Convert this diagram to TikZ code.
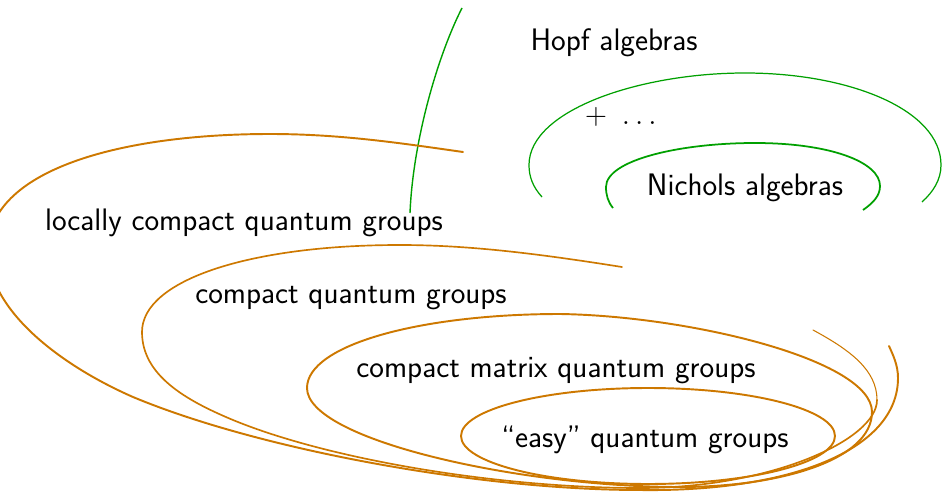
\documentclass[tikz,border=0pt]{standalone}
\usepackage{tikz}
\definecolor{qorange}{RGB}{205,120,0}
\definecolor{qgreen}{RGB}{0,160,0}
\tikzset{
  x=0.02cm, y=-0.02cm,
  ocurve/.style={draw=qorange, line width=1.1pt, line join=round, line cap=round},
  gcurve/.style={draw=qgreen, line width=0.8pt, line cap=butt},
  lbl/.style={anchor=base, inner sep=0pt, font=\fontsize{17.7pt}{21pt}\selectfont\sffamily, text=black}
}
\begin{document}
\begin{tikzpicture}
\useasboundingbox (0,0) rectangle (944,494);
\clip (0,0) rectangle (944,494);

% green Hopf boundary
\draw[gcurve] (462,8) .. controls (438,55) and (413,140) .. (410,213);
% big green arc
\draw[gcurve, line width=0.7pt] (542,197) .. controls (533,187) and (529,177) .. (529,165)
  .. controls (529,110) and (640,73) .. (745,73)
  .. controls (850,73) and (941,110) .. (941,165)
  .. controls (941,180) and (933,192) .. (922,202);
% inner green arc (Nichols)
\draw[gcurve, line width=1pt] (613,208) .. controls (608,202) and (606,195) .. (606,187)
  .. controls (606,160) and (680,143) .. (755,143)
  .. controls (830,143) and (880,162) .. (880,186)
  .. controls (880,196) and (873,203) .. (863,210);

% locally compact quantum groups
\draw[ocurve] (463,152) .. controls (400,143) and (340,134) .. (270,134)
  .. controls (120,134) and (-12,170) .. (-12,250)
  .. controls (-12,310) and (60,365) .. (133,397)
  .. controls (260,450) and (480,490) .. (640,490)
  .. controls (790,492) and (898,450) .. (898,378)
  .. controls (898,365) and (893,355) .. (889,346);
% compact quantum groups
\draw[ocurve, line width=0.95pt] (622,267) .. controls (540,254) and (470,245) .. (400,245)
  .. controls (250,245) and (142,280) .. (142,332)
  .. controls (142,375) and (185,400) .. (233,420)
  .. controls (330,460) and (500,488) .. (640,488)
  .. controls (770,488) and (877,440) .. (877,400);
\draw[ocurve, line width=0.6pt] (877,400) .. controls (877,370) and (850,350) .. (813,330);
% compact matrix quantum groups
\draw[ocurve] (307,388) .. controls (307,345) and (420,314) .. (560,314)
  .. controls (690,316) and (872,360) .. (872,412)
  .. controls (872,460) and (780,487) .. (680,487)
  .. controls (520,487) and (307,440) .. (307,388) -- cycle;
% easy quantum groups
\draw[ocurve] (648,436) ellipse [x radius=187, y radius=48];

% labels
\node[lbl] (hopf) at (614,50) {Hopf algebras};
\node[lbl] (plus) at (621,124) {$+\ \ldots$};
\node[lbl] (nichols) at (745,195) {Nichols algebras};
\node[lbl] (lcqg) at (244,230) {locally compact quantum groups};
\node[lbl] (cqg) at (351,303) {compact quantum groups};
\node[lbl] (cmqg) at (556,377) {compact matrix quantum groups};
\node[lbl] (easy) at (645,447) {``easy'' quantum groups};
\end{tikzpicture}
\end{document}
